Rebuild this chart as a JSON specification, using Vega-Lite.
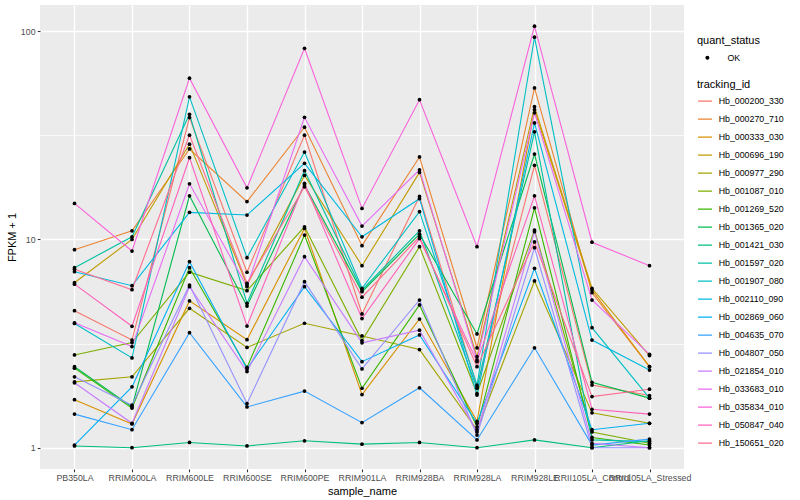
{
"$schema": "https://vega.github.io/schema/vega-lite/v6.json",
"width": 644, "height": 464,
"autosize": "none",
"padding": {"left": 40, "top": 5, "right": 116, "bottom": 31},
"background": "white",
"config": {
  "font": "Liberation Sans",
  "view": {"fill": "#EBEBEB", "stroke": null},
  "axis": {"domain": false, "gridColor": "white", "tickColor": "#333333", "tickSize": 2.75, "tickWidth": 1.07,
    "labelColor": "#4D4D4D", "labelFontSize": 8.8, "titleFontSize": 11, "titleFontWeight": "normal", "titleColor": "black",
    "labelFont": "Liberation Sans", "titleFont": "Liberation Sans"},
  "legend": {"titleFontSize": 11, "titleFontWeight": "normal", "titleColor": "black", "titleFont": "Liberation Sans",
    "labelFontSize": 8.8, "labelColor": "black", "labelFont": "Liberation Sans", "padding": 0, "titlePadding": 3,
    "rowPadding": 0, "clipHeight": 17.25}
},
"data": {"values": [
{"tracking_id":"Hb_000200_330","sample_name":"PB350LA","fpkm_plus_1":4.55,"quant_status":"OK"},
{"tracking_id":"Hb_000200_330","sample_name":"RRIM600LA","fpkm_plus_1":3.29,"quant_status":"OK"},
{"tracking_id":"Hb_000200_330","sample_name":"RRIM600LE","fpkm_plus_1":38.5,"quant_status":"OK"},
{"tracking_id":"Hb_000200_330","sample_name":"RRIM600SE","fpkm_plus_1":6.96,"quant_status":"OK"},
{"tracking_id":"Hb_000200_330","sample_name":"RRIM600PE","fpkm_plus_1":31.7,"quant_status":"OK"},
{"tracking_id":"Hb_000200_330","sample_name":"RRIM901LA","fpkm_plus_1":4.39,"quant_status":"OK"},
{"tracking_id":"Hb_000200_330","sample_name":"RRIM928BA","fpkm_plus_1":16.1,"quant_status":"OK"},
{"tracking_id":"Hb_000200_330","sample_name":"RRIM928LA","fpkm_plus_1":1.96,"quant_status":"OK"},
{"tracking_id":"Hb_000200_330","sample_name":"RRIM928LE","fpkm_plus_1":22.7,"quant_status":"OK"},
{"tracking_id":"Hb_000200_330","sample_name":"RRII105LA_Control","fpkm_plus_1":2.0,"quant_status":"OK"},
{"tracking_id":"Hb_000200_330","sample_name":"RRII105LA_Stressed","fpkm_plus_1":1.78,"quant_status":"OK"},
{"tracking_id":"Hb_000270_710","sample_name":"PB350LA","fpkm_plus_1":8.93,"quant_status":"OK"},
{"tracking_id":"Hb_000270_710","sample_name":"RRIM600LA","fpkm_plus_1":11.0,"quant_status":"OK"},
{"tracking_id":"Hb_000270_710","sample_name":"RRIM600LE","fpkm_plus_1":27.2,"quant_status":"OK"},
{"tracking_id":"Hb_000270_710","sample_name":"RRIM600SE","fpkm_plus_1":15.2,"quant_status":"OK"},
{"tracking_id":"Hb_000270_710","sample_name":"RRIM600PE","fpkm_plus_1":34.6,"quant_status":"OK"},
{"tracking_id":"Hb_000270_710","sample_name":"RRIM901LA","fpkm_plus_1":9.34,"quant_status":"OK"},
{"tracking_id":"Hb_000270_710","sample_name":"RRIM928BA","fpkm_plus_1":24.9,"quant_status":"OK"},
{"tracking_id":"Hb_000270_710","sample_name":"RRIM928LA","fpkm_plus_1":3.02,"quant_status":"OK"},
{"tracking_id":"Hb_000270_710","sample_name":"RRIM928LE","fpkm_plus_1":53.4,"quant_status":"OK"},
{"tracking_id":"Hb_000270_710","sample_name":"RRII105LA_Control","fpkm_plus_1":5.55,"quant_status":"OK"},
{"tracking_id":"Hb_000270_710","sample_name":"RRII105LA_Stressed","fpkm_plus_1":2.45,"quant_status":"OK"},
{"tracking_id":"Hb_000333_030","sample_name":"PB350LA","fpkm_plus_1":1.70,"quant_status":"OK"},
{"tracking_id":"Hb_000333_030","sample_name":"RRIM600LA","fpkm_plus_1":1.30,"quant_status":"OK"},
{"tracking_id":"Hb_000333_030","sample_name":"RRIM600LE","fpkm_plus_1":5.07,"quant_status":"OK"},
{"tracking_id":"Hb_000333_030","sample_name":"RRIM600SE","fpkm_plus_1":3.30,"quant_status":"OK"},
{"tracking_id":"Hb_000333_030","sample_name":"RRIM600PE","fpkm_plus_1":11.3,"quant_status":"OK"},
{"tracking_id":"Hb_000333_030","sample_name":"RRIM901LA","fpkm_plus_1":1.80,"quant_status":"OK"},
{"tracking_id":"Hb_000333_030","sample_name":"RRIM928BA","fpkm_plus_1":4.15,"quant_status":"OK"},
{"tracking_id":"Hb_000333_030","sample_name":"RRIM928LA","fpkm_plus_1":1.34,"quant_status":"OK"},
{"tracking_id":"Hb_000333_030","sample_name":"RRIM928LE","fpkm_plus_1":42.0,"quant_status":"OK"},
{"tracking_id":"Hb_000333_030","sample_name":"RRII105LA_Control","fpkm_plus_1":5.72,"quant_status":"OK"},
{"tracking_id":"Hb_000333_030","sample_name":"RRII105LA_Stressed","fpkm_plus_1":2.45,"quant_status":"OK"},
{"tracking_id":"Hb_000696_190","sample_name":"PB350LA","fpkm_plus_1":6.2,"quant_status":"OK"},
{"tracking_id":"Hb_000696_190","sample_name":"RRIM600LA","fpkm_plus_1":10.0,"quant_status":"OK"},
{"tracking_id":"Hb_000696_190","sample_name":"RRIM600LE","fpkm_plus_1":28.7,"quant_status":"OK"},
{"tracking_id":"Hb_000696_190","sample_name":"RRIM600SE","fpkm_plus_1":6.05,"quant_status":"OK"},
{"tracking_id":"Hb_000696_190","sample_name":"RRIM600PE","fpkm_plus_1":20.3,"quant_status":"OK"},
{"tracking_id":"Hb_000696_190","sample_name":"RRIM901LA","fpkm_plus_1":7.48,"quant_status":"OK"},
{"tracking_id":"Hb_000696_190","sample_name":"RRIM928BA","fpkm_plus_1":21.0,"quant_status":"OK"},
{"tracking_id":"Hb_000696_190","sample_name":"RRIM928LA","fpkm_plus_1":2.74,"quant_status":"OK"},
{"tracking_id":"Hb_000696_190","sample_name":"RRIM928LE","fpkm_plus_1":43.4,"quant_status":"OK"},
{"tracking_id":"Hb_000696_190","sample_name":"RRII105LA_Control","fpkm_plus_1":5.83,"quant_status":"OK"},
{"tracking_id":"Hb_000696_190","sample_name":"RRII105LA_Stressed","fpkm_plus_1":2.77,"quant_status":"OK"},
{"tracking_id":"Hb_000977_290","sample_name":"PB350LA","fpkm_plus_1":2.07,"quant_status":"OK"},
{"tracking_id":"Hb_000977_290","sample_name":"RRIM600LA","fpkm_plus_1":2.19,"quant_status":"OK"},
{"tracking_id":"Hb_000977_290","sample_name":"RRIM600LE","fpkm_plus_1":4.67,"quant_status":"OK"},
{"tracking_id":"Hb_000977_290","sample_name":"RRIM600SE","fpkm_plus_1":3.03,"quant_status":"OK"},
{"tracking_id":"Hb_000977_290","sample_name":"RRIM600PE","fpkm_plus_1":3.96,"quant_status":"OK"},
{"tracking_id":"Hb_000977_290","sample_name":"RRIM901LA","fpkm_plus_1":3.44,"quant_status":"OK"},
{"tracking_id":"Hb_000977_290","sample_name":"RRIM928BA","fpkm_plus_1":2.96,"quant_status":"OK"},
{"tracking_id":"Hb_000977_290","sample_name":"RRIM928LA","fpkm_plus_1":1.22,"quant_status":"OK"},
{"tracking_id":"Hb_000977_290","sample_name":"RRIM928LE","fpkm_plus_1":6.32,"quant_status":"OK"},
{"tracking_id":"Hb_000977_290","sample_name":"RRII105LA_Control","fpkm_plus_1":1.47,"quant_status":"OK"},
{"tracking_id":"Hb_000977_290","sample_name":"RRII105LA_Stressed","fpkm_plus_1":1.31,"quant_status":"OK"},
{"tracking_id":"Hb_001087_010","sample_name":"PB350LA","fpkm_plus_1":2.79,"quant_status":"OK"},
{"tracking_id":"Hb_001087_010","sample_name":"RRIM600LA","fpkm_plus_1":3.2,"quant_status":"OK"},
{"tracking_id":"Hb_001087_010","sample_name":"RRIM600LE","fpkm_plus_1":6.96,"quant_status":"OK"},
{"tracking_id":"Hb_001087_010","sample_name":"RRIM600SE","fpkm_plus_1":5.68,"quant_status":"OK"},
{"tracking_id":"Hb_001087_010","sample_name":"RRIM600PE","fpkm_plus_1":11.5,"quant_status":"OK"},
{"tracking_id":"Hb_001087_010","sample_name":"RRIM901LA","fpkm_plus_1":3.27,"quant_status":"OK"},
{"tracking_id":"Hb_001087_010","sample_name":"RRIM928BA","fpkm_plus_1":9.24,"quant_status":"OK"},
{"tracking_id":"Hb_001087_010","sample_name":"RRIM928LA","fpkm_plus_1":1.82,"quant_status":"OK"},
{"tracking_id":"Hb_001087_010","sample_name":"RRIM928LE","fpkm_plus_1":11.1,"quant_status":"OK"},
{"tracking_id":"Hb_001087_010","sample_name":"RRII105LA_Control","fpkm_plus_1":1.19,"quant_status":"OK"},
{"tracking_id":"Hb_001087_010","sample_name":"RRII105LA_Stressed","fpkm_plus_1":1.05,"quant_status":"OK"},
{"tracking_id":"Hb_001269_520","sample_name":"PB350LA","fpkm_plus_1":2.41,"quant_status":"OK"},
{"tracking_id":"Hb_001269_520","sample_name":"RRIM600LA","fpkm_plus_1":1.55,"quant_status":"OK"},
{"tracking_id":"Hb_001269_520","sample_name":"RRIM600LE","fpkm_plus_1":7.32,"quant_status":"OK"},
{"tracking_id":"Hb_001269_520","sample_name":"RRIM600SE","fpkm_plus_1":2.43,"quant_status":"OK"},
{"tracking_id":"Hb_001269_520","sample_name":"RRIM600PE","fpkm_plus_1":10.5,"quant_status":"OK"},
{"tracking_id":"Hb_001269_520","sample_name":"RRIM901LA","fpkm_plus_1":1.93,"quant_status":"OK"},
{"tracking_id":"Hb_001269_520","sample_name":"RRIM928BA","fpkm_plus_1":4.85,"quant_status":"OK"},
{"tracking_id":"Hb_001269_520","sample_name":"RRIM928LA","fpkm_plus_1":1.26,"quant_status":"OK"},
{"tracking_id":"Hb_001269_520","sample_name":"RRIM928LE","fpkm_plus_1":14.2,"quant_status":"OK"},
{"tracking_id":"Hb_001269_520","sample_name":"RRII105LA_Control","fpkm_plus_1":1.12,"quant_status":"OK"},
{"tracking_id":"Hb_001269_520","sample_name":"RRII105LA_Stressed","fpkm_plus_1":1.03,"quant_status":"OK"},
{"tracking_id":"Hb_001365_020","sample_name":"PB350LA","fpkm_plus_1":2.45,"quant_status":"OK"},
{"tracking_id":"Hb_001365_020","sample_name":"RRIM600LA","fpkm_plus_1":1.57,"quant_status":"OK"},
{"tracking_id":"Hb_001365_020","sample_name":"RRIM600LE","fpkm_plus_1":16.2,"quant_status":"OK"},
{"tracking_id":"Hb_001365_020","sample_name":"RRIM600SE","fpkm_plus_1":4.79,"quant_status":"OK"},
{"tracking_id":"Hb_001365_020","sample_name":"RRIM600PE","fpkm_plus_1":18.3,"quant_status":"OK"},
{"tracking_id":"Hb_001365_020","sample_name":"RRIM901LA","fpkm_plus_1":5.61,"quant_status":"OK"},
{"tracking_id":"Hb_001365_020","sample_name":"RRIM928BA","fpkm_plus_1":10.6,"quant_status":"OK"},
{"tracking_id":"Hb_001365_020","sample_name":"RRIM928LA","fpkm_plus_1":3.52,"quant_status":"OK"},
{"tracking_id":"Hb_001365_020","sample_name":"RRIM928LE","fpkm_plus_1":25.7,"quant_status":"OK"},
{"tracking_id":"Hb_001365_020","sample_name":"RRII105LA_Control","fpkm_plus_1":2.06,"quant_status":"OK"},
{"tracking_id":"Hb_001365_020","sample_name":"RRII105LA_Stressed","fpkm_plus_1":1.73,"quant_status":"OK"},
{"tracking_id":"Hb_001421_030","sample_name":"PB350LA","fpkm_plus_1":1.02,"quant_status":"OK"},
{"tracking_id":"Hb_001421_030","sample_name":"RRIM600LA","fpkm_plus_1":1.0,"quant_status":"OK"},
{"tracking_id":"Hb_001421_030","sample_name":"RRIM600LE","fpkm_plus_1":1.06,"quant_status":"OK"},
{"tracking_id":"Hb_001421_030","sample_name":"RRIM600SE","fpkm_plus_1":1.02,"quant_status":"OK"},
{"tracking_id":"Hb_001421_030","sample_name":"RRIM600PE","fpkm_plus_1":1.08,"quant_status":"OK"},
{"tracking_id":"Hb_001421_030","sample_name":"RRIM901LA","fpkm_plus_1":1.04,"quant_status":"OK"},
{"tracking_id":"Hb_001421_030","sample_name":"RRIM928BA","fpkm_plus_1":1.06,"quant_status":"OK"},
{"tracking_id":"Hb_001421_030","sample_name":"RRIM928LA","fpkm_plus_1":1.0,"quant_status":"OK"},
{"tracking_id":"Hb_001421_030","sample_name":"RRIM928LE","fpkm_plus_1":1.09,"quant_status":"OK"},
{"tracking_id":"Hb_001421_030","sample_name":"RRII105LA_Control","fpkm_plus_1":1.0,"quant_status":"OK"},
{"tracking_id":"Hb_001421_030","sample_name":"RRII105LA_Stressed","fpkm_plus_1":1.08,"quant_status":"OK"},
{"tracking_id":"Hb_001597_020","sample_name":"PB350LA","fpkm_plus_1":7.32,"quant_status":"OK"},
{"tracking_id":"Hb_001597_020","sample_name":"RRIM600LA","fpkm_plus_1":10.3,"quant_status":"OK"},
{"tracking_id":"Hb_001597_020","sample_name":"RRIM600LE","fpkm_plus_1":39.9,"quant_status":"OK"},
{"tracking_id":"Hb_001597_020","sample_name":"RRIM600SE","fpkm_plus_1":4.94,"quant_status":"OK"},
{"tracking_id":"Hb_001597_020","sample_name":"RRIM600PE","fpkm_plus_1":21.4,"quant_status":"OK"},
{"tracking_id":"Hb_001597_020","sample_name":"RRIM901LA","fpkm_plus_1":5.72,"quant_status":"OK"},
{"tracking_id":"Hb_001597_020","sample_name":"RRIM928BA","fpkm_plus_1":11.0,"quant_status":"OK"},
{"tracking_id":"Hb_001597_020","sample_name":"RRIM928LA","fpkm_plus_1":1.93,"quant_status":"OK"},
{"tracking_id":"Hb_001597_020","sample_name":"RRIM928LE","fpkm_plus_1":32.9,"quant_status":"OK"},
{"tracking_id":"Hb_001597_020","sample_name":"RRII105LA_Control","fpkm_plus_1":1.09,"quant_status":"OK"},
{"tracking_id":"Hb_001597_020","sample_name":"RRII105LA_Stressed","fpkm_plus_1":1.07,"quant_status":"OK"},
{"tracking_id":"Hb_001907_080","sample_name":"PB350LA","fpkm_plus_1":3.95,"quant_status":"OK"},
{"tracking_id":"Hb_001907_080","sample_name":"RRIM600LA","fpkm_plus_1":2.70,"quant_status":"OK"},
{"tracking_id":"Hb_001907_080","sample_name":"RRIM600LE","fpkm_plus_1":48.4,"quant_status":"OK"},
{"tracking_id":"Hb_001907_080","sample_name":"RRIM600SE","fpkm_plus_1":8.18,"quant_status":"OK"},
{"tracking_id":"Hb_001907_080","sample_name":"RRIM600PE","fpkm_plus_1":26.3,"quant_status":"OK"},
{"tracking_id":"Hb_001907_080","sample_name":"RRIM901LA","fpkm_plus_1":5.83,"quant_status":"OK"},
{"tracking_id":"Hb_001907_080","sample_name":"RRIM928BA","fpkm_plus_1":13.6,"quant_status":"OK"},
{"tracking_id":"Hb_001907_080","sample_name":"RRIM928LA","fpkm_plus_1":2.0,"quant_status":"OK"},
{"tracking_id":"Hb_001907_080","sample_name":"RRIM928LE","fpkm_plus_1":93.6,"quant_status":"OK"},
{"tracking_id":"Hb_001907_080","sample_name":"RRII105LA_Control","fpkm_plus_1":3.77,"quant_status":"OK"},
{"tracking_id":"Hb_001907_080","sample_name":"RRII105LA_Stressed","fpkm_plus_1":1.73,"quant_status":"OK"},
{"tracking_id":"Hb_002110_090","sample_name":"PB350LA","fpkm_plus_1":7.0,"quant_status":"OK"},
{"tracking_id":"Hb_002110_090","sample_name":"RRIM600LA","fpkm_plus_1":6.0,"quant_status":"OK"},
{"tracking_id":"Hb_002110_090","sample_name":"RRIM600LE","fpkm_plus_1":13.5,"quant_status":"OK"},
{"tracking_id":"Hb_002110_090","sample_name":"RRIM600SE","fpkm_plus_1":13.1,"quant_status":"OK"},
{"tracking_id":"Hb_002110_090","sample_name":"RRIM600PE","fpkm_plus_1":23.2,"quant_status":"OK"},
{"tracking_id":"Hb_002110_090","sample_name":"RRIM901LA","fpkm_plus_1":10.3,"quant_status":"OK"},
{"tracking_id":"Hb_002110_090","sample_name":"RRIM928BA","fpkm_plus_1":15.7,"quant_status":"OK"},
{"tracking_id":"Hb_002110_090","sample_name":"RRIM928LA","fpkm_plus_1":1.79,"quant_status":"OK"},
{"tracking_id":"Hb_002110_090","sample_name":"RRIM928LE","fpkm_plus_1":36.3,"quant_status":"OK"},
{"tracking_id":"Hb_002110_090","sample_name":"RRII105LA_Control","fpkm_plus_1":3.29,"quant_status":"OK"},
{"tracking_id":"Hb_002110_090","sample_name":"RRII105LA_Stressed","fpkm_plus_1":2.36,"quant_status":"OK"},
{"tracking_id":"Hb_002869_060","sample_name":"PB350LA","fpkm_plus_1":1.03,"quant_status":"OK"},
{"tracking_id":"Hb_002869_060","sample_name":"RRIM600LA","fpkm_plus_1":1.96,"quant_status":"OK"},
{"tracking_id":"Hb_002869_060","sample_name":"RRIM600LE","fpkm_plus_1":7.82,"quant_status":"OK"},
{"tracking_id":"Hb_002869_060","sample_name":"RRIM600SE","fpkm_plus_1":2.39,"quant_status":"OK"},
{"tracking_id":"Hb_002869_060","sample_name":"RRIM600PE","fpkm_plus_1":5.93,"quant_status":"OK"},
{"tracking_id":"Hb_002869_060","sample_name":"RRIM901LA","fpkm_plus_1":2.59,"quant_status":"OK"},
{"tracking_id":"Hb_002869_060","sample_name":"RRIM928BA","fpkm_plus_1":3.48,"quant_status":"OK"},
{"tracking_id":"Hb_002869_060","sample_name":"RRIM928LA","fpkm_plus_1":1.31,"quant_status":"OK"},
{"tracking_id":"Hb_002869_060","sample_name":"RRIM928LE","fpkm_plus_1":7.27,"quant_status":"OK"},
{"tracking_id":"Hb_002869_060","sample_name":"RRII105LA_Control","fpkm_plus_1":1.22,"quant_status":"OK"},
{"tracking_id":"Hb_002869_060","sample_name":"RRII105LA_Stressed","fpkm_plus_1":1.31,"quant_status":"OK"},
{"tracking_id":"Hb_004635_070","sample_name":"PB350LA","fpkm_plus_1":1.45,"quant_status":"OK"},
{"tracking_id":"Hb_004635_070","sample_name":"RRIM600LA","fpkm_plus_1":1.22,"quant_status":"OK"},
{"tracking_id":"Hb_004635_070","sample_name":"RRIM600LE","fpkm_plus_1":3.57,"quant_status":"OK"},
{"tracking_id":"Hb_004635_070","sample_name":"RRIM600SE","fpkm_plus_1":1.57,"quant_status":"OK"},
{"tracking_id":"Hb_004635_070","sample_name":"RRIM600PE","fpkm_plus_1":1.87,"quant_status":"OK"},
{"tracking_id":"Hb_004635_070","sample_name":"RRIM901LA","fpkm_plus_1":1.32,"quant_status":"OK"},
{"tracking_id":"Hb_004635_070","sample_name":"RRIM928BA","fpkm_plus_1":1.94,"quant_status":"OK"},
{"tracking_id":"Hb_004635_070","sample_name":"RRIM928LA","fpkm_plus_1":1.09,"quant_status":"OK"},
{"tracking_id":"Hb_004635_070","sample_name":"RRIM928LE","fpkm_plus_1":3.02,"quant_status":"OK"},
{"tracking_id":"Hb_004635_070","sample_name":"RRII105LA_Control","fpkm_plus_1":1.03,"quant_status":"OK"},
{"tracking_id":"Hb_004635_070","sample_name":"RRII105LA_Stressed","fpkm_plus_1":1.10,"quant_status":"OK"},
{"tracking_id":"Hb_004807_050","sample_name":"PB350LA","fpkm_plus_1":2.19,"quant_status":"OK"},
{"tracking_id":"Hb_004807_050","sample_name":"RRIM600LA","fpkm_plus_1":1.60,"quant_status":"OK"},
{"tracking_id":"Hb_004807_050","sample_name":"RRIM600LE","fpkm_plus_1":6.04,"quant_status":"OK"},
{"tracking_id":"Hb_004807_050","sample_name":"RRIM600SE","fpkm_plus_1":1.63,"quant_status":"OK"},
{"tracking_id":"Hb_004807_050","sample_name":"RRIM600PE","fpkm_plus_1":6.27,"quant_status":"OK"},
{"tracking_id":"Hb_004807_050","sample_name":"RRIM901LA","fpkm_plus_1":2.39,"quant_status":"OK"},
{"tracking_id":"Hb_004807_050","sample_name":"RRIM928BA","fpkm_plus_1":5.12,"quant_status":"OK"},
{"tracking_id":"Hb_004807_050","sample_name":"RRIM928LA","fpkm_plus_1":1.15,"quant_status":"OK"},
{"tracking_id":"Hb_004807_050","sample_name":"RRIM928LE","fpkm_plus_1":9.13,"quant_status":"OK"},
{"tracking_id":"Hb_004807_050","sample_name":"RRII105LA_Control","fpkm_plus_1":1.0,"quant_status":"OK"},
{"tracking_id":"Hb_004807_050","sample_name":"RRII105LA_Stressed","fpkm_plus_1":1.0,"quant_status":"OK"},
{"tracking_id":"Hb_021854_010","sample_name":"PB350LA","fpkm_plus_1":2.05,"quant_status":"OK"},
{"tracking_id":"Hb_021854_010","sample_name":"RRIM600LA","fpkm_plus_1":1.31,"quant_status":"OK"},
{"tracking_id":"Hb_021854_010","sample_name":"RRIM600LE","fpkm_plus_1":5.93,"quant_status":"OK"},
{"tracking_id":"Hb_021854_010","sample_name":"RRIM600SE","fpkm_plus_1":2.32,"quant_status":"OK"},
{"tracking_id":"Hb_021854_010","sample_name":"RRIM600PE","fpkm_plus_1":8.27,"quant_status":"OK"},
{"tracking_id":"Hb_021854_010","sample_name":"RRIM901LA","fpkm_plus_1":3.19,"quant_status":"OK"},
{"tracking_id":"Hb_021854_010","sample_name":"RRIM928BA","fpkm_plus_1":3.67,"quant_status":"OK"},
{"tracking_id":"Hb_021854_010","sample_name":"RRIM928LA","fpkm_plus_1":1.19,"quant_status":"OK"},
{"tracking_id":"Hb_021854_010","sample_name":"RRIM928LE","fpkm_plus_1":10.9,"quant_status":"OK"},
{"tracking_id":"Hb_021854_010","sample_name":"RRII105LA_Control","fpkm_plus_1":1.05,"quant_status":"OK"},
{"tracking_id":"Hb_021854_010","sample_name":"RRII105LA_Stressed","fpkm_plus_1":1.0,"quant_status":"OK"},
{"tracking_id":"Hb_033683_010","sample_name":"PB350LA","fpkm_plus_1":3.98,"quant_status":"OK"},
{"tracking_id":"Hb_033683_010","sample_name":"RRIM600LA","fpkm_plus_1":3.06,"quant_status":"OK"},
{"tracking_id":"Hb_033683_010","sample_name":"RRIM600LE","fpkm_plus_1":18.5,"quant_status":"OK"},
{"tracking_id":"Hb_033683_010","sample_name":"RRIM600SE","fpkm_plus_1":5.93,"quant_status":"OK"},
{"tracking_id":"Hb_033683_010","sample_name":"RRIM600PE","fpkm_plus_1":38.6,"quant_status":"OK"},
{"tracking_id":"Hb_033683_010","sample_name":"RRIM901LA","fpkm_plus_1":11.6,"quant_status":"OK"},
{"tracking_id":"Hb_033683_010","sample_name":"RRIM928BA","fpkm_plus_1":21.6,"quant_status":"OK"},
{"tracking_id":"Hb_033683_010","sample_name":"RRIM928LA","fpkm_plus_1":2.64,"quant_status":"OK"},
{"tracking_id":"Hb_033683_010","sample_name":"RRIM928LE","fpkm_plus_1":40.6,"quant_status":"OK"},
{"tracking_id":"Hb_033683_010","sample_name":"RRII105LA_Control","fpkm_plus_1":5.12,"quant_status":"OK"},
{"tracking_id":"Hb_033683_010","sample_name":"RRII105LA_Stressed","fpkm_plus_1":2.81,"quant_status":"OK"},
{"tracking_id":"Hb_035834_010","sample_name":"PB350LA","fpkm_plus_1":14.9,"quant_status":"OK"},
{"tracking_id":"Hb_035834_010","sample_name":"RRIM600LA","fpkm_plus_1":8.8,"quant_status":"OK"},
{"tracking_id":"Hb_035834_010","sample_name":"RRIM600LE","fpkm_plus_1":59.5,"quant_status":"OK"},
{"tracking_id":"Hb_035834_010","sample_name":"RRIM600SE","fpkm_plus_1":17.7,"quant_status":"OK"},
{"tracking_id":"Hb_035834_010","sample_name":"RRIM600PE","fpkm_plus_1":82.8,"quant_status":"OK"},
{"tracking_id":"Hb_035834_010","sample_name":"RRIM901LA","fpkm_plus_1":14.1,"quant_status":"OK"},
{"tracking_id":"Hb_035834_010","sample_name":"RRIM928BA","fpkm_plus_1":46.9,"quant_status":"OK"},
{"tracking_id":"Hb_035834_010","sample_name":"RRIM928LA","fpkm_plus_1":9.24,"quant_status":"OK"},
{"tracking_id":"Hb_035834_010","sample_name":"RRIM928LE","fpkm_plus_1":105.7,"quant_status":"OK"},
{"tracking_id":"Hb_035834_010","sample_name":"RRII105LA_Control","fpkm_plus_1":9.7,"quant_status":"OK"},
{"tracking_id":"Hb_035834_010","sample_name":"RRII105LA_Stressed","fpkm_plus_1":7.48,"quant_status":"OK"},
{"tracking_id":"Hb_050847_040","sample_name":"PB350LA","fpkm_plus_1":6.1,"quant_status":"OK"},
{"tracking_id":"Hb_050847_040","sample_name":"RRIM600LA","fpkm_plus_1":3.83,"quant_status":"OK"},
{"tracking_id":"Hb_050847_040","sample_name":"RRIM600LE","fpkm_plus_1":24.7,"quant_status":"OK"},
{"tracking_id":"Hb_050847_040","sample_name":"RRIM600SE","fpkm_plus_1":3.84,"quant_status":"OK"},
{"tracking_id":"Hb_050847_040","sample_name":"RRIM600PE","fpkm_plus_1":18.6,"quant_status":"OK"},
{"tracking_id":"Hb_050847_040","sample_name":"RRIM901LA","fpkm_plus_1":4.17,"quant_status":"OK"},
{"tracking_id":"Hb_050847_040","sample_name":"RRIM928BA","fpkm_plus_1":10.1,"quant_status":"OK"},
{"tracking_id":"Hb_050847_040","sample_name":"RRIM928LA","fpkm_plus_1":2.59,"quant_status":"OK"},
{"tracking_id":"Hb_050847_040","sample_name":"RRIM928LE","fpkm_plus_1":16.2,"quant_status":"OK"},
{"tracking_id":"Hb_050847_040","sample_name":"RRII105LA_Control","fpkm_plus_1":1.53,"quant_status":"OK"},
{"tracking_id":"Hb_050847_040","sample_name":"RRII105LA_Stressed","fpkm_plus_1":1.45,"quant_status":"OK"},
{"tracking_id":"Hb_150651_020","sample_name":"PB350LA","fpkm_plus_1":7.19,"quant_status":"OK"},
{"tracking_id":"Hb_150651_020","sample_name":"RRIM600LA","fpkm_plus_1":5.74,"quant_status":"OK"},
{"tracking_id":"Hb_150651_020","sample_name":"RRIM600LE","fpkm_plus_1":31.7,"quant_status":"OK"},
{"tracking_id":"Hb_150651_020","sample_name":"RRIM600SE","fpkm_plus_1":6.16,"quant_status":"OK"},
{"tracking_id":"Hb_150651_020","sample_name":"RRIM600PE","fpkm_plus_1":17.9,"quant_status":"OK"},
{"tracking_id":"Hb_150651_020","sample_name":"RRIM901LA","fpkm_plus_1":5.28,"quant_status":"OK"},
{"tracking_id":"Hb_150651_020","sample_name":"RRIM928BA","fpkm_plus_1":10.3,"quant_status":"OK"},
{"tracking_id":"Hb_150651_020","sample_name":"RRIM928LA","fpkm_plus_1":2.45,"quant_status":"OK"},
{"tracking_id":"Hb_150651_020","sample_name":"RRIM928LE","fpkm_plus_1":9.73,"quant_status":"OK"},
{"tracking_id":"Hb_150651_020","sample_name":"RRII105LA_Control","fpkm_plus_1":1.76,"quant_status":"OK"},
{"tracking_id":"Hb_150651_020","sample_name":"RRII105LA_Stressed","fpkm_plus_1":1.91,"quant_status":"OK"}
]},
"encoding": {
  "x": {"field": "sample_name", "type": "nominal",
    "sort": ["PB350LA","RRIM600LA","RRIM600LE","RRIM600SE","RRIM600PE","RRIM901LA","RRIM928BA","RRIM928LA","RRIM928LE","RRII105LA_Control","RRII105LA_Stressed"],
    "scale": {"type": "point", "padding": 0.6, "domain": ["PB350LA","RRIM600LA","RRIM600LE","RRIM600SE","RRIM600PE","RRIM901LA","RRIM928BA","RRIM928LA","RRIM928LE","RRII105LA_Control","RRII105LA_Stressed"]},
    "axis": {"title": "sample_name", "labelAngle": 0, "grid": true, "gridWidth": 1.42, "labelPadding": 2.2, "titlePadding": 3,
      "labelOverlap": false, "labelBound": false, "labelFlush": false}}
},
"layer": [
  {"mark": {"type": "line", "strokeWidth": 1.1},
   "encoding": {
     "y": {"field": "fpkm_plus_1", "type": "quantitative",
       "scale": {"type": "log", "domain": [0.7903, 133.66], "nice": false},
       "axis": {"orient": "left", "title": "FPKM + 1", "values": [1, 10, 100], "format": "d", "grid": true, "gridWidth": 1.42,
         "labelPadding": 2.2, "titlePadding": 3}},
     "stroke": {"field": "tracking_id", "type": "nominal",
       "scale": {"domain": ["Hb_000200_330","Hb_000270_710","Hb_000333_030","Hb_000696_190","Hb_000977_290","Hb_001087_010","Hb_001269_520","Hb_001365_020","Hb_001421_030","Hb_001597_020","Hb_001907_080","Hb_002110_090","Hb_002869_060","Hb_004635_070","Hb_004807_050","Hb_021854_010","Hb_033683_010","Hb_035834_010","Hb_050847_040","Hb_150651_020"],
         "range": ["#F8766D","#EA8331","#D89000","#C09B00","#A3A500","#7CAE00","#39B600","#00BB4E","#00BF7D","#00C1A3","#00BFC4","#00BAE0","#00B0F6","#35A2FF","#9590FF","#C77CFF","#E76BF3","#FA62DB","#FF62BC","#FF6C91"]},
       "legend": {"title": "tracking_id", "orient": "none", "legendX": 657, "legendY": 73.5, "symbolType": "stroke",
         "symbolSize": 196, "symbolStrokeWidth": 1.42, "labelOffset": 5.7}},
     "order": {"value": null}
   }},
  {"mark": {"type": "point", "filled": true, "size": 14, "opacity": 1},
   "encoding": {
     "y": {"field": "fpkm_plus_1", "type": "quantitative",
       "scale": {"type": "log", "domain": [0.7903, 133.66], "nice": false},
       "axis": {"orient": "left", "title": null, "values": [3.1623, 31.623], "grid": true, "gridWidth": 0.71,
         "labels": false, "ticks": false, "domain": false}},
     "color": {"field": "quant_status", "type": "nominal",
       "scale": {"domain": ["OK"], "range": ["black"]},
       "legend": {"title": "quant_status", "orient": "none", "legendX": 657, "legendY": 30, "symbolType": "circle",
         "symbolSize": 16, "symbolOffset": 6, "labelOffset": 15.7, "symbolStrokeWidth": 0}}
   }}
],
"resolve": {"axis": {"y": "independent"}}
}
